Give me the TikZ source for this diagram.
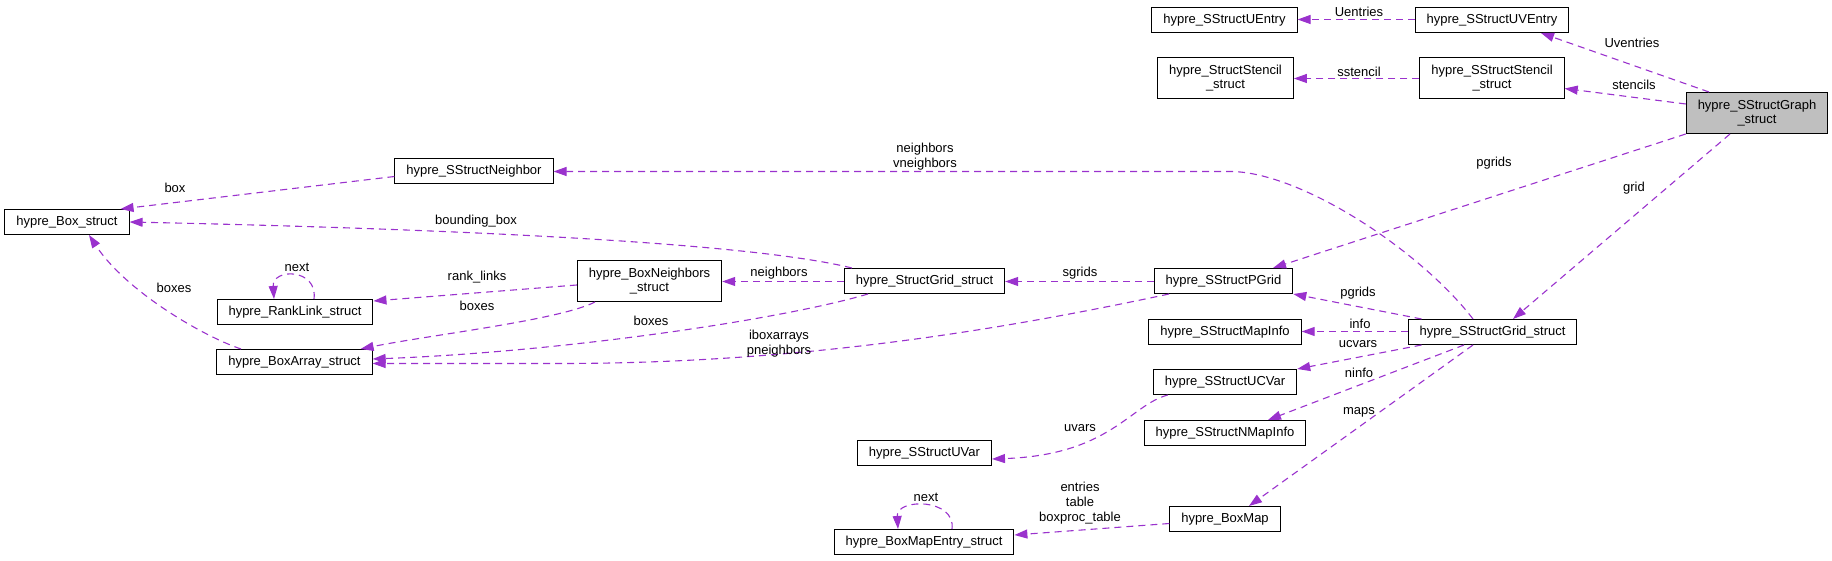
\documentclass[tikz,border=0pt]{standalone}
\usepackage{fontspec}
\setmainfont{Liberation Sans}
\usetikzlibrary{arrows.meta}
\definecolor{lila}{HTML}{9A32CD}
\definecolor{szurke}{HTML}{BFBFBF}
\tikzset{
  strukt/.style={draw,line width=1pt,fill=white,inner xsep=11.5pt,inner ysep=2pt,minimum height=25pt,
                 align=center,font=\fontsize{13}{14}\selectfont},
  strukt2/.style={strukt,minimum height=41pt},
  fostrukt/.style={strukt2,fill=szurke},
  hasznal/.style={draw=lila,line width=1.1pt,dash pattern=on 7pt off 5pt,-{Triangle[length=13pt,width=9pt]}},
  cimke/.style={font=\fontsize{13}{15}\selectfont,align=center,inner sep=0pt},
}
\begin{document}
\begin{tikzpicture}[x=1pt,y=-1pt]
  \useasboundingbox (0,0) rectangle (1832,561);
  % csomopontok, oszloponkent
  \node[strukt] (box) at (67,222) {hypre\_Box\_struct};
  \node[strukt] (ranklink) at (295,312) {hypre\_RankLink\_struct};
  \node[strukt] (boxarray) at (294.5,362) {hypre\_BoxArray\_struct};
  \node[strukt] (neighbor) at (474,171) {hypre\_SStructNeighbor};
  \node[strukt2] (boxneigh) at (649.5,281) {hypre\_BoxNeighbors\\\_struct};
  \node[strukt] (structgrid) at (924.5,281) {hypre\_StructGrid\_struct};
  \node[strukt] (uvar) at (924.5,453) {hypre\_SStructUVar};
  \node[strukt] (mapentry) at (924,542) {hypre\_BoxMapEntry\_struct};
  \node[strukt] (uentry) at (1224.5,20) {hypre\_SStructUEntry};
  \node[strukt2] (ststencil) at (1225.5,78) {hypre\_StructStencil\\\_struct};
  \node[strukt] (pgrid) at (1223.5,281) {hypre\_SStructPGrid};
  \node[strukt] (mapinfo) at (1225,332) {hypre\_SStructMapInfo};
  \node[strukt] (ucvar) at (1225,382) {hypre\_SStructUCVar};
  \node[strukt] (nmapinfo) at (1225,433) {hypre\_SStructNMapInfo};
  \node[strukt] (boxmap) at (1225,519) {hypre\_BoxMap};
  \node[strukt] (uventry) at (1492,20) {hypre\_SStructUVEntry};
  \node[strukt2] (sstencil) at (1492,78) {hypre\_SStructStencil\\\_struct};
  \node[strukt] (sgrid) at (1492.5,332) {hypre\_SStructGrid\_struct};
  \node[fostrukt] (graph) at (1757,113) {hypre\_SStructGraph\\\_struct};
  % elek
  \draw[hasznal] ([yshift=0.5pt]uventry.west) -- ([yshift=0.5pt]uentry.east) node[cimke] at (1359,12) {Uentries};
  \draw[hasznal] ([xshift=-48pt]graph.north) -- ([xshift=49pt]uventry.south) node[cimke] at (1632,43) {Uventries};
  \draw[hasznal] ([yshift=-0.5pt]sstencil.west) -- ([yshift=-0.5pt]ststencil.east) node[cimke] at (1359,72) {sstencil};
  \draw[hasznal] ([yshift=9pt]graph.west) -- ([yshift=-10.5pt]sstencil.east) node[cimke] at (1634,85) {stencils};
  \draw[hasznal] (graph.south west) -- ([xshift=49.5pt]pgrid.north) node[cimke] at (1494,163) {pgrids};
  \draw[hasznal] ([xshift=-27pt]graph.south) -- ([xshift=20.5pt]sgrid.north) node[cimke] at (1634,188) {grid};
  \draw[hasznal] ([xshift=-19.5pt]sgrid.north) .. controls (1420,250) and (1300,171.5) .. (1230,171.5) -- ([yshift=-0.5pt]neighbor.east)
    node[cimke] at (925,156.5) {neighbors\\vneighbors};
  \draw[hasznal] ([yshift=-5.5pt]neighbor.west) -- ([xshift=-9pt]box.north east) node[cimke] at (175,188) {box};
  \draw[hasznal] ([xshift=8pt]structgrid.north west) .. controls (760,245) and (500,230) .. (box.east)
    node[cimke] at (476,221) {bounding\_box};
  \draw[hasznal] ([xshift=-53.5pt]boxarray.north) .. controls (200,335) and (125,290) .. ([xshift=22pt]box.south)
    node[cimke] at (174,288) {boxes};
  \draw[hasznal] ([xshift=19pt]ranklink.north) .. controls (318,268) and (272,268) .. ([xshift=-21pt]ranklink.north)
    node[cimke] at (297,267) {next};
  \draw[hasznal] ([yshift=-4pt]boxneigh.west) -- ([yshift=-2pt]ranklink.north east) node[cimke] at (477,277) {rank\_links};
  \draw[hasznal] ([xshift=-54.5pt]boxneigh.south) .. controls (560,320) and (430,335) .. ([xshift=-12pt]boxarray.north east)
    node[cimke] at (477,306) {boxes};
  \draw[hasznal] ([yshift=-0.5pt]structgrid.west) -- ([yshift=-0.5pt]boxneigh.east) node[cimke] at (779,273) {neighbors};
  \draw[hasznal] ([xshift=-56.5pt]structgrid.south) .. controls (780,320) and (560,352) .. ([yshift=3pt]boxarray.east)
    node[cimke] at (651,321) {boxes};
  \draw[hasznal] ([yshift=-0.5pt]pgrid.west) -- ([yshift=-0.5pt]structgrid.east) node[cimke] at (1080,273) {sgrids};
  \draw[hasznal] ([xshift=-54.5pt]pgrid.south) .. controls (1000,330) and (800,363.5) .. (560,363.5) -- ([yshift=-1.5pt]boxarray.east)
    node[cimke] at (779,343.5) {iboxarrays\\pneighbors};
  \draw[hasznal] ([xshift=14pt]sgrid.north west) -- (pgrid.south east) node[cimke] at (1358,293) {pgrids};
  \draw[hasznal] ([yshift=0.5pt]sgrid.west) -- ([yshift=0.5pt]mapinfo.east) node[cimke] at (1360,324) {info};
  \draw[hasznal] ([xshift=14pt]sgrid.south west) -- (ucvar.north east) node[cimke] at (1358,344) {ucvars};
  \draw[hasznal] ([xshift=-28.5pt]sgrid.south) -- ([xshift=43pt]nmapinfo.north) node[cimke] at (1359,373) {ninfo};
  \draw[hasznal] ([xshift=-19.5pt]sgrid.south) -- ([xshift=24pt]boxmap.north) node[cimke] at (1359,412) {maps};
  \draw[hasznal] ([xshift=15pt]ucvar.south west) .. controls (1130,405) and (1110,455) .. ([yshift=-6pt]uvar.east)
    node[cimke] at (1080,428) {uvars};
  \draw[hasznal] ([yshift=-4.5pt]boxmap.west) -- ([yshift=7pt]mapentry.east)
    node[cimke] at (1080,503) {entries\\table\\boxproc\_table};
  \draw[hasznal] ([xshift=28pt]mapentry.north) .. controls (956,498) and (896,498) .. ([xshift=-26pt]mapentry.north)
    node[cimke] at (926,497) {next};
\end{tikzpicture}
\end{document}
